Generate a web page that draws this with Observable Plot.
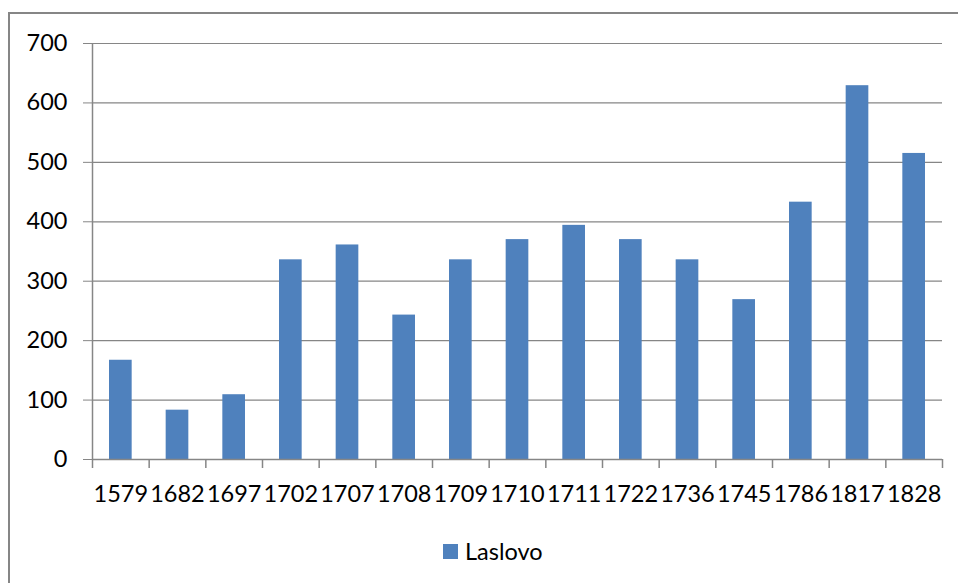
<!DOCTYPE html>
<html>
<head>
<meta charset="utf-8">
<script src="https://cdn.jsdelivr.net/npm/d3@7"></script>
<script src="https://cdn.jsdelivr.net/npm/@observablehq/plot@0.6"></script>
<style>
  html, body { margin: 0; padding: 0; background: #fff; overflow: hidden; }
  #wrap { position: relative; width: 958px; height: 583px; font-family: Lato, "Open Sans", sans-serif; }
  #frame { position: absolute; left: 8px; top: 12px; width: 980px; height: 600px;
           border-left: 2px solid #868686; border-top: 2px solid #868686; box-sizing: border-box; }
  #chart { position: absolute; left: 0; top: 0; }
  #legend { position: absolute; left: 443px; top: 537px; display: flex; align-items: center;
            font-size: 23.5px; color: #000; }
  #legend .sw { width: 15px; height: 15px; background: #4F81BD; margin-right: 7px; }
</style>
</head>
<body>
<div id="wrap">
  <div id="frame"></div>
  <div id="chart"></div>
  <div id="legend"></div>
</div>
<script>
const years = ["1579","1682","1697","1702","1707","1708","1709","1710","1711","1722","1736","1745","1786","1817","1828"];
const values = [167, 83, 109, 336, 361, 243, 336, 370, 394, 370, 336, 269, 433, 629, 515];
const yTicks = [0, 100, 200, 300, 400, 500, 600, 700];
const seriesName = "Laslovo";

const data = years.map((y, i) => ({year: y, value: values[i]}));

const W = 958, H = 520;
const mL = 92, mR = 16, mT = 43, mB = 61;
const bw = (W - mL - mR) / years.length;
const grey = "#868686";
const blue = "#4F81BD";
const fs = 23.5;

const chart = Plot.plot({
  width: W,
  height: H,
  marginLeft: mL,
  marginRight: mR,
  marginTop: mT,
  marginBottom: mB,
  style: {fontFamily: "Lato, 'Open Sans', sans-serif", fontSize: fs + "px", color: "#000", background: "transparent"},
  x: {type: "band", domain: years, paddingInner: 0.6, paddingOuter: 0.3, align: 0.5, round: false},
  y: {domain: [0, 700]},
  marks: [
    Plot.ruleY(yTicks, {y: d => d, stroke: grey, strokeWidth: 1.2, strokeOpacity: 1}),
    Plot.axisY({ticks: yTicks, tickSize: 9, tickPadding: 16, stroke: grey, strokeOpacity: 1, label: null, fill: "#000", fontSize: fs}),
    Plot.barY(data, {x: "year", y: "value", fill: blue}),
    Plot.ruleX([0], {x: () => years[0], y1: 0, y2: 700, dx: -bw / 2, stroke: grey, strokeWidth: 1.5}),
    Plot.ruleY([0], {y: d => d, stroke: grey, strokeWidth: 1.5}),
    Plot.ruleX(years, {x: d => d, y1: 0, y2: 0, insetBottom: -9, dx: -bw / 2, stroke: grey, strokeWidth: 1.5}),
    Plot.ruleX(years.slice(-1), {x: d => d, y1: 0, y2: 0, insetBottom: -9, dx: bw / 2, stroke: grey, strokeWidth: 1.5}),
    Plot.axisX({tickSize: 0, tickPadding: 26, label: null, fill: "#000", fontSize: fs})
  ]
});
document.getElementById("chart").appendChild(chart);

const legend = document.getElementById("legend");
const sw = document.createElement("div");
sw.className = "sw";
const lab = document.createElement("span");
lab.textContent = seriesName;
legend.appendChild(sw);
legend.appendChild(lab);
</script>
</body>
</html>
